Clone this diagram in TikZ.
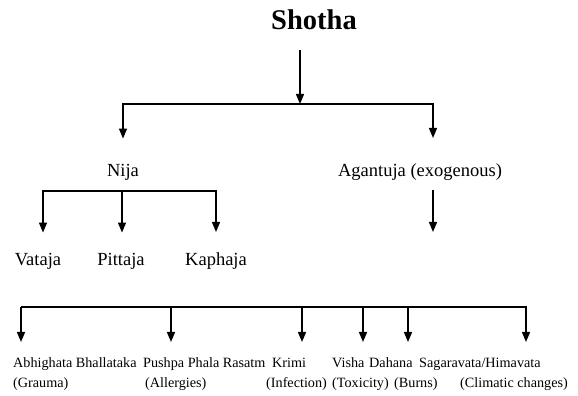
\documentclass[tikz,border=0pt]{standalone}
\usepackage{fontspec}
\setmainfont{Liberation Serif}
\usetikzlibrary{arrows.meta}

\begin{document}
\begin{tikzpicture}[x=1pt, y=1pt]

% Define styles
\tikzstyle{title} = [font=\fontsize{28.5}{34}\selectfont\bfseries, inner sep=0pt, anchor=base]
\tikzstyle{kind} = [font=\fontsize{18.5}{22}\selectfont, inner sep=0pt, anchor=base]
\tikzstyle{cause} = [font=\fontsize{14.2}{17}\selectfont, inner sep=0pt, anchor=base west]
\tikzstyle{arrow} = [-{Triangle[length=10pt, width=8pt]}, line width=1.4pt, draw=black]

\useasboundingbox (0,0) rectangle (578,396);

% Top node
\node[title] (shotha) at (314,366) {Shotha};

% Define second layer nodes
\node[kind] (nija) at (123,219) {Nija};
\node[kind] (agantuja) at (420,219) {Agantuja (exogenous)};

% Define third layer nodes (Nija)
\node[kind] (vataja) at (38,130) {Vataja};
\node[kind] (pittaja) at (121,130) {Pittaja};
\node[kind] (kaphaja) at (216,130) {Kaphaja};

% Define fourth layer nodes (Agantuja)
\node[cause] (abhighata) at (13,28) {Abhighata Bhallataka};
\node[cause] (pushpa) at (143,28) {Pushpa Phala Rasatm};
\node[cause] (krimi) at (272,28) {Krimi};
\node[cause] (visha) at (332,28) {Visha};
\node[cause] (dahana) at (369,28) {Dahana};
\node[cause] (sagaravata) at (419,28) {Sagaravata/Himavata};

\node[cause] (grauma) at (13,9) {(Grauma)};
\node[cause] (allergies) at (145,9) {(Allergies)};
\node[cause] (infection) at (266,9) {(Infection)};
\node[cause] (toxicity) at (332,9) {(Toxicity)};
\node[cause] (burns) at (394,9) {(Burns)};
\node[cause] (climatic) at (460,9) {(Climatic changes)};

% Junctions and arrow ends
\coordinate (split) at (300,292);
\coordinate (nijasplit) at (122,205);
\coordinate (exotip) at (433,164);
\coordinate (bus) at (21,89);
\coordinate (abhighatatip) at (21,54);
\coordinate (pushpatip) at (171,54);
\coordinate (krimitip) at (302,54);
\coordinate (vishatip) at (363,54);
\coordinate (dahanatip) at (408,54);
\coordinate (sagaravatatip) at (526,54);

% Relationships (arrows)
\draw[arrow] ([yshift=-20pt]shotha.south -| split) -- (split);
\draw[arrow, shorten >=26pt] (split) -| (nija.north);
\draw[arrow, shorten >=26pt] (split) -| ([xshift=13pt]agantuja.north);

\draw[arrow, shorten >=21pt] (nijasplit) -| ([xshift=5pt]vataja.north);
\draw[arrow, shorten >=21pt] (nijasplit) -- (nijasplit |- pittaja.north);
\draw[arrow, shorten >=21pt] (nijasplit) -| (kaphaja.north);

\draw[arrow] ([yshift=-9pt]agantuja.south -| exotip) -- (exotip);

\draw[arrow] (bus) -- (abhighatatip);
\draw[arrow] (bus) -| (sagaravatatip);
\draw[arrow] (bus -| pushpatip) -- (pushpatip);
\draw[arrow] (bus -| krimitip) -- (krimitip);
\draw[arrow] (bus -| vishatip) -- (vishatip);
\draw[arrow] (bus -| dahanatip) -- (dahanatip);

\end{tikzpicture}
\end{document}
